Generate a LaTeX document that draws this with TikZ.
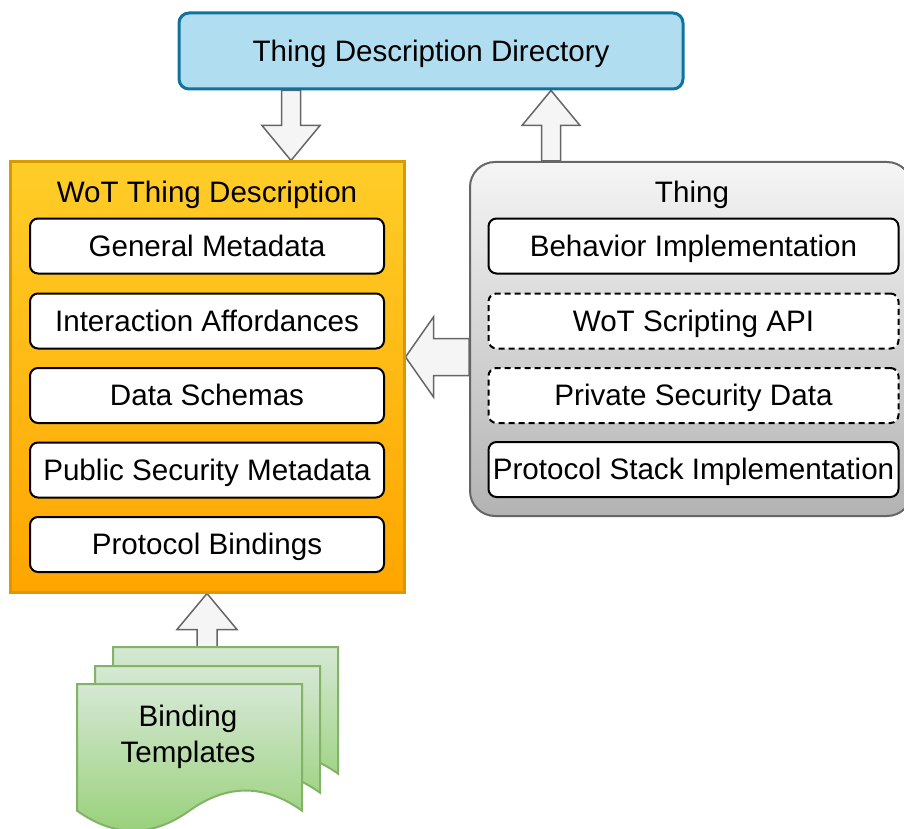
\documentclass[tikz,border=0pt]{standalone}
\usepackage{fontspec}
\setmainfont{Liberation Sans}
\usetikzlibrary{calc}

\definecolor{tddfill}{HTML}{B1DDF0}
\definecolor{tddline}{HTML}{10739E}
\definecolor{wottop}{HTML}{FFCD28}
\definecolor{wotbottom}{HTML}{FFA500}
\definecolor{wotline}{HTML}{D79B00}
\definecolor{thingtop}{HTML}{F5F5F5}
\definecolor{thingbottom}{HTML}{B3B3B3}
\definecolor{thingline}{HTML}{666666}
\definecolor{arrowfill}{HTML}{F5F5F5}
\definecolor{arrowline}{HTML}{666666}
\definecolor{doctop}{HTML}{D5E8D4}
\definecolor{docbottom}{HTML}{97D077}
\definecolor{docline}{HTML}{82B366}

\pgfdeclarelayer{bg}
\pgfsetlayers{bg,main}

\tikzset{
  txt/.style={font=\fontsize{29.6}{36}\selectfont, inner sep=0pt},
  lbl/.style={txt, text height=26.8pt, text depth=6.3pt},
  tddbox/.style={lbl, draw=tddline, fill=tddfill, line width=3pt, rounded corners=10pt,
    minimum width=504pt, minimum height=76pt},
  wotbox/.style={draw=wotline, top color=wottop, bottom color=wotbottom, line width=3pt,
    minimum width=394pt, minimum height=430pt, inner sep=0pt},
  thingbox/.style={draw=thingline, top color=thingtop, bottom color=thingbottom, line width=2pt,
    rounded corners=25pt, minimum width=442pt, minimum height=354pt, inner sep=0pt},
  part/.style={lbl, draw=black, line width=2pt, fill=white, rounded corners=8pt,
    minimum width=354pt, minimum height=55pt},
  tpart/.style={part, minimum width=410pt},
  optional/.style={dash pattern=on 6pt off 4pt},
  blockarrow/.style={draw=arrowline, fill=arrowfill, line width=1.5pt, line join=miter},
  docpage/.style={draw=docline, top color=doctop, bottom color=docbottom, line width=2pt},
  pics/document/.style={code={
    \path[docpage] (0,0) -- (225,0) -- (225,126.65)
      .. controls (187.5,99.83) and (150,99.83) .. (112.5,126.65)
      .. controls (75,153.47) and (37.5,153.47) .. (0,126.65) -- cycle;
  }}
}

% hollow block arrow from #1 to #2: shaft half width #3, head half width #4, head length #5
\newcommand\hollowarrow[5]{%
  \coordinate (ha base) at ($(#2)!#5!(#1)$);
  \path[blockarrow]
    ($(#1)!#3!90:(#2)$) -- ($(ha base)!#3!-90:(#1)$) -- ($(ha base)!#4!-90:(#1)$)
    -- (#2) -- ($(ha base)!#4!90:(#1)$) -- ($(ha base)!#3!90:(#1)$)
    -- ($(#1)!#3!-90:(#2)$) -- cycle;
}

\begin{document}
\begin{tikzpicture}[x=1pt, y=-1pt]
\useasboundingbox (0,0) rectangle (904,829);

% directory
\node[tddbox] (tdd) at (431,51) {Thing Description Directory};

% thing description and its parts
\node[wotbox] (wot) at (207,377) {};
\node[lbl] (wottitle) at (207,192) {WoT Thing Description};
\node[part] (gm) at (207,246) {General Metadata};
\node[part] (ia) at (207,321) {Interaction Affordances};
\node[part] (ds) at (207,395.5) {Data Schemas};
\node[part] (psm) at (207,470) {Public Security Metadata};
\node[part] (pb) at (207,544.5) {Protocol Bindings};

% the thing itself
\node[thingbox] (thing) at (691,339) {};
\node[lbl] (thingtitle) at (692,192) {Thing};
\node[tpart] (bi) at (693.5,246) {Behavior Implementation};
\node[tpart, optional] (wsa) at (693.5,321) {WoT Scripting API};
\node[tpart, optional] (psd) at (693.5,395.5) {Private Security Data};
\node[tpart] (psi) at (693.5,469.5) {Protocol Stack Implementation};

% stacked binding template documents
\pic at (113,647) {document};
\pic at (95,666) {document};
\pic at (77,684) {document};
\node[txt, align=center] (bt) at (188,737) {Binding\\Templates};
\coordinate (btop) at (207,647);

% anchor columns for the arrows
\coordinate (col291) at (291,0);
\coordinate (col551) at (551,0);
\coordinate (row357) at (0,357);

\begin{pgfonlayer}{bg}
  % directory -> thing description
  \coordinate (a1s) at (tdd.south -| col291);
  \coordinate (a1e) at (wot.north -| col291);
  \hollowarrow{a1s}{a1e}{9.5pt}{29pt}{35pt}
  % thing -> directory
  \coordinate (a2s) at (thing.north -| col551);
  \coordinate (a2e) at (tdd.south -| col551);
  \hollowarrow{a2s}{a2e}{9.5pt}{29pt}{35pt}
  % thing -> thing description
  \coordinate (a3s) at (thing.west |- row357);
  \coordinate (a3e) at (wot.east |- row357);
  \hollowarrow{a3s}{a3e}{18.5pt}{40pt}{28pt}
  % binding templates -> thing description
  \coordinate (a4e) at (wot.south -| btop);
  \hollowarrow{btop}{a4e}{10pt}{30pt}{36pt}
\end{pgfonlayer}
\end{tikzpicture}
\end{document}
